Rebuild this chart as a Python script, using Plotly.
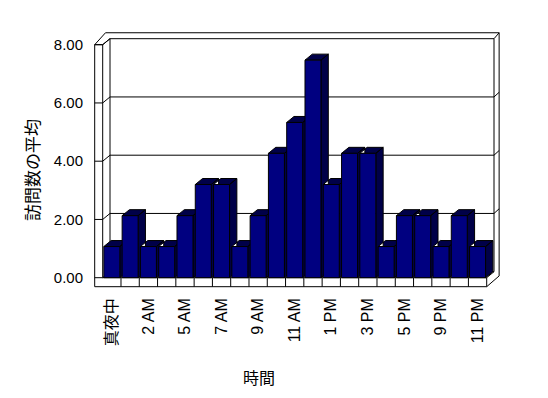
import plotly.graph_objects as go

# ---- data ----
categories = ["真夜中", "1 AM", "2 AM", "4 AM", "5 AM", "6 AM", "7 AM", "8 AM", "9 AM",
              "10 AM", "11 AM", "正午", "1 PM", "2 PM", "3 PM", "4 PM", "5 PM", "7 PM",
              "9 PM", "10 PM", "11 PM"]
values = [1.07, 2.13, 1.07, 1.07, 2.13, 3.20, 3.20, 1.07, 2.13, 4.27, 5.33, 7.47,
          3.20, 4.27, 4.27, 1.07, 2.13, 2.13, 1.07, 2.13, 1.07]
y_ticks = [0, 2, 4, 6, 8]
y_ticktext = ["0.00", "2.00", "4.00", "6.00", "8.00"]
y_title = "訪問数の平均"
x_title = "時間"

# ---- geometry (axis units) ----
N = len(categories)
xs = list(range(N))
x0, x1 = -0.5, N - 0.5
YMAX = 8
DX, DY = 0.40, 0.206          # depth offset of the 3-D box
BW = 0.875                    # bar width
OL = x0 - 0.4375              # outer left of wall
OB = -0.309                   # outer bottom of floor
OT = 8.41                     # outer top of back wall
OR = x1 + DX + 0.28           # outer right of back wall
XR = [-1.0305, 21.282]
YR = [-0.3537, 8.4704]

FONT = "Liberation Sans, Arial, Noto Sans CJK JP"
fig = go.Figure()

# frame lines
segs = []
def seg(a, b):
    segs.append((a, b))

seg((OL, OB), (OL, YMAX))
seg((OL, YMAX), (x0, YMAX))
seg((x0, YMAX), (x0, 0))
seg((OL, OB), (x1, OB))
seg((x0, 0), (x1, 0))
seg((x1, OB), (x1, 0))
for k in range(1, N):
    seg((x0 + k, OB), (x0 + k, 0))
seg((OL, YMAX), (OL + 0.59, OT))
seg((OL + 0.59, OT), (OR, OT))
seg((OR, OT), (OR, 0.06))
seg((OR, 0.06), (x1, OB))
seg((x0, YMAX), (x0 + DX, YMAX + DY))
seg((x0 + DX, YMAX + DY), (x1 + DX, YMAX + DY))
seg((x1 + DX, YMAX + DY), (x1 + DX, DY))
seg((x1, 0), (x1 + DX, DY))
seg((x0 + DX, YMAX + DY), (x0 + DX, DY))
seg((x0 + DX, DY), (x1 + DX, DY))
seg((x1 + DX, YMAX + DY), (OR, OT))
for g in y_ticks:
    seg((OL, g), (x0, g))
    seg((x0, g), (x0 + DX, g + DY))
    if 0 < g < YMAX:
        seg((x0 + DX, g + DY), (x1 + DX, g + DY))
        seg((x1 + DX, g + DY), (OR, g + DY + 0.16))

fx, fy = [], []
for a, b in segs:
    fx += [a[0], b[0], None]
    fy += [a[1], b[1], None]
fig.add_trace(go.Scatter(x=fx, y=fy, mode="lines", line=dict(color="black", width=1),
                         hoverinfo="skip", showlegend=False, xaxis="x", yaxis="y"))

# bar sides and tops
px_, py_ = [], []
for x, v in zip(xs, values):
    r, l = x + BW / 2, x - BW / 2
    px_ += [r, r + DX, r + DX, r, r, None]
    py_ += [0, DY, v + DY, v, 0, None]
    px_ += [l, l + DX, r + DX, r, l, None]
    py_ += [v, v + DY, v + DY, v, v, None]
fig.add_trace(go.Scatter(x=px_, y=py_, mode="lines", fill="toself",
                         fillcolor="#000060",
                         fillpattern=dict(shape=".", bgcolor="#000080", fgcolor="black",
                                          size=2, solidity=0.5, fillmode="replace"),
                         line=dict(color="black", width=1),
                         hoverinfo="skip", showlegend=False, xaxis="x", yaxis="y"))

# bar fronts
fig.add_trace(go.Bar(x=xs, y=values, width=BW, marker=dict(color="#000080",
                     line=dict(color="black", width=1)),
                     showlegend=False, xaxis="x2", yaxis="y2"))

fig.update_layout(
    width=548, height=398,
    margin=dict(l=93, r=47, t=31, b=110),
    paper_bgcolor="white", plot_bgcolor="rgba(0,0,0,0)",
    font=dict(family=FONT, size=15, color="black"),
    xaxis=dict(range=XR, showgrid=False, zeroline=False, showline=False,
               tickmode="array", tickvals=xs[::2], ticktext=categories[::2],
               tickangle=-90, ticks="", ticklabelstandoff=6,
               tickfont=dict(family=FONT, size=16)),
    yaxis=dict(range=YR, showgrid=False, zeroline=False, showline=False,
               tickmode="array", tickvals=y_ticks, ticktext=y_ticktext,
               ticks="", ticklabelstandoff=9, tickfont=dict(family=FONT, size=15)),
    xaxis2=dict(range=XR, overlaying="x", visible=False),
    yaxis2=dict(range=YR, overlaying="y", visible=False),
    annotations=[
        dict(text=y_title, textangle=-90, xref="paper", yref="paper",
             x=-0.152, y=(288 - 170) / 257, xanchor="center", yanchor="middle",
             showarrow=False, font=dict(family="Noto Sans CJK JP", size=17)),
        dict(text=x_title, xref="paper", yref="paper",
             x=(259 - 93) / 408, y=(288 - 377) / 257, xanchor="center", yanchor="middle",
             showarrow=False, font=dict(family="Noto Sans CJK JP", size=16)),
    ],
)
fig.write_html("out.html", config={"displayModeBar": False},
               post_script="document.body.style.margin='0';document.body.style.overflow='hidden';")
